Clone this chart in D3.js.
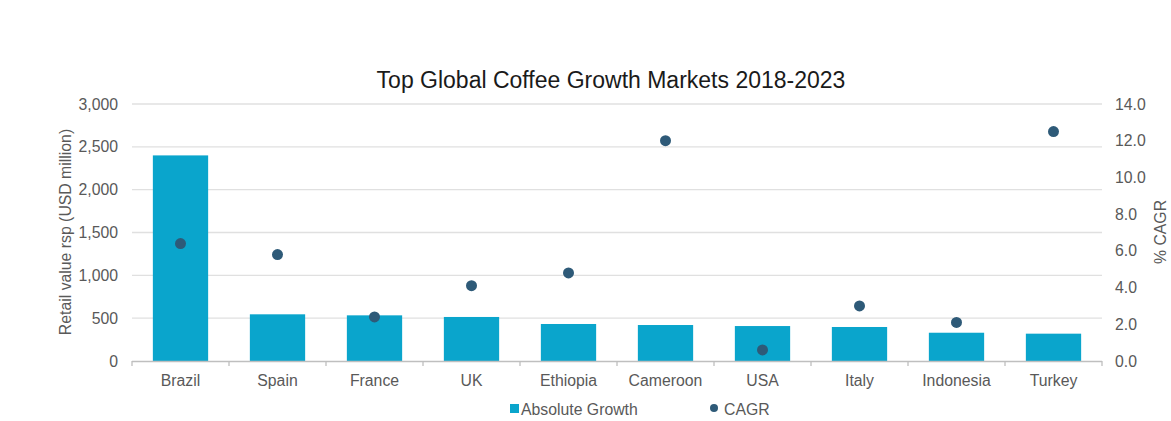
<!DOCTYPE html>
<html>
<head>
<meta charset="utf-8">
<script src="https://cdn.jsdelivr.net/npm/d3@7"></script>
<style>
  html, body { margin: 0; padding: 0; background: #ffffff; }
  svg { display: block; font-family: "Liberation Sans", Arial, sans-serif; }
</style>
</head>
<body>
<svg id="chart" width="1171" height="421"></svg>
<script>
// Markets, in ranking order
const markets = ["Brazil", "Spain", "France", "UK", "Ethiopia", "Cameroon", "USA", "Italy", "Indonesia", "Turkey"];
// Absolute growth, retail value rsp (USD million)
const absoluteGrowth = [2400, 545, 533, 514, 432, 420, 408, 397, 330, 319];
// Compound annual growth rate (%)
const cagr = [6.4, 5.8, 2.4, 4.1, 4.8, 12.0, 0.6, 3.0, 2.1, 12.5];
// Axis ticks
const leftTicks = [0, 500, 1000, 1500, 2000, 2500, 3000];
const rightTicks = [0, 2, 4, 6, 8, 10, 12, 14];

const barColor = "#0aa5cc";
const dotColor = "#2e5a78";
const labelColor = "#595959";
const gridColor = "#e0e0e0";
const fontSize = 15.8;

const svg = d3.select("#chart");
const plot = { left: 132, right: 1102, top: 104, bottom: 361 };

const x = d3.scaleBand().domain(markets).range([plot.left, plot.right]).paddingInner(0.43).paddingOuter(0.215);
const yLeft = d3.scaleLinear().domain([0, 3000]).range([plot.bottom, plot.top]);
const yRight = d3.scaleLinear().domain([0, 14]).range([plot.bottom, plot.top]);

// Title
svg.append("text")
  .attr("x", 611).attr("y", 88)
  .attr("text-anchor", "middle")
  .attr("font-size", 23)
  .attr("fill", "#1a1a1a")
  .text("Top Global Coffee Growth Markets 2018-2023");

// Horizontal gridlines from the left scale
svg.append("g")
  .selectAll("line")
  .data(leftTicks.filter(d => d > 0))
  .join("line")
  .attr("x1", plot.left).attr("x2", plot.right)
  .attr("y1", d => yLeft(d)).attr("y2", d => yLeft(d))
  .attr("stroke", gridColor).attr("stroke-width", 1.4);

// Left axis
const leftAxis = svg.append("g")
  .attr("transform", `translate(${plot.left},0)`)
  .call(d3.axisLeft(yLeft).tickValues(leftTicks).tickFormat(d3.format(",")).tickSize(0).tickPadding(14));
leftAxis.select(".domain").remove();
leftAxis.selectAll("text").attr("font-size", fontSize).attr("fill", labelColor)
  .attr("font-family", "Liberation Sans, Arial, sans-serif");

// Right axis
const rightAxis = svg.append("g")
  .attr("transform", `translate(${plot.right},0)`)
  .call(d3.axisRight(yRight).tickValues(rightTicks).tickFormat(d3.format(".1f")).tickSize(0).tickPadding(13));
rightAxis.select(".domain").remove();
rightAxis.selectAll("text").attr("font-size", fontSize).attr("fill", labelColor)
  .attr("font-family", "Liberation Sans, Arial, sans-serif");

// Bars: absolute growth
svg.append("g")
  .selectAll("rect")
  .data(markets)
  .join("rect")
  .attr("x", d => x(d))
  .attr("width", x.bandwidth())
  .attr("y", (d, i) => yLeft(absoluteGrowth[i]))
  .attr("height", (d, i) => yLeft(0) - yLeft(absoluteGrowth[i]))
  .attr("fill", barColor);

// Category axis with ticks at band boundaries
const bounds = d3.range(markets.length + 1).map(i => plot.left + i * (plot.right - plot.left) / markets.length);
const bottom = svg.append("g");
bottom.append("line")
  .attr("x1", plot.left).attr("x2", plot.right)
  .attr("y1", plot.bottom + 0.5).attr("y2", plot.bottom + 0.5)
  .attr("stroke", "#bfbfbf").attr("stroke-width", 1.3);
bottom.selectAll("line.tick")
  .data(bounds)
  .join("line")
  .attr("class", "tick")
  .attr("x1", d => d).attr("x2", d => d)
  .attr("y1", plot.bottom).attr("y2", plot.bottom + 5)
  .attr("stroke", "#bfbfbf").attr("stroke-width", 1.3);
bottom.selectAll("text")
  .data(markets)
  .join("text")
  .attr("x", d => x(d) + x.bandwidth() / 2)
  .attr("y", 386)
  .attr("text-anchor", "middle")
  .attr("font-size", fontSize)
  .attr("fill", labelColor)
  .text(d => d);

// Dots: CAGR on the right scale
svg.append("g")
  .selectAll("circle")
  .data(markets)
  .join("circle")
  .attr("cx", d => x(d) + x.bandwidth() / 2)
  .attr("cy", (d, i) => yRight(cagr[i]))
  .attr("r", 5.5)
  .attr("fill", dotColor);

// Axis titles
svg.append("text")
  .attr("transform", `translate(71,232) rotate(-90)`)
  .attr("text-anchor", "middle")
  .attr("font-size", fontSize)
  .attr("fill", labelColor)
  .text("Retail value rsp (USD million)");
svg.append("text")
  .attr("transform", `translate(1166,232) rotate(-90)`)
  .attr("text-anchor", "middle")
  .attr("font-size", fontSize)
  .attr("fill", labelColor)
  .text("% CAGR");

// Legend
const legend = svg.append("g").attr("transform", "translate(0,409)");
legend.append("rect").attr("x", 510).attr("y", -5).attr("width", 9).attr("height", 9).attr("fill", barColor);
legend.append("text").attr("x", 521).attr("y", 0).attr("dy", "0.35em").attr("font-size", fontSize).attr("fill", labelColor).text("Absolute Growth");
legend.append("circle").attr("cx", 714).attr("cy", -1).attr("r", 4).attr("fill", dotColor);
legend.append("text").attr("x", 724).attr("y", 0).attr("dy", "0.35em").attr("font-size", fontSize).attr("fill", labelColor).text("CAGR");
</script>
</body>
</html>
